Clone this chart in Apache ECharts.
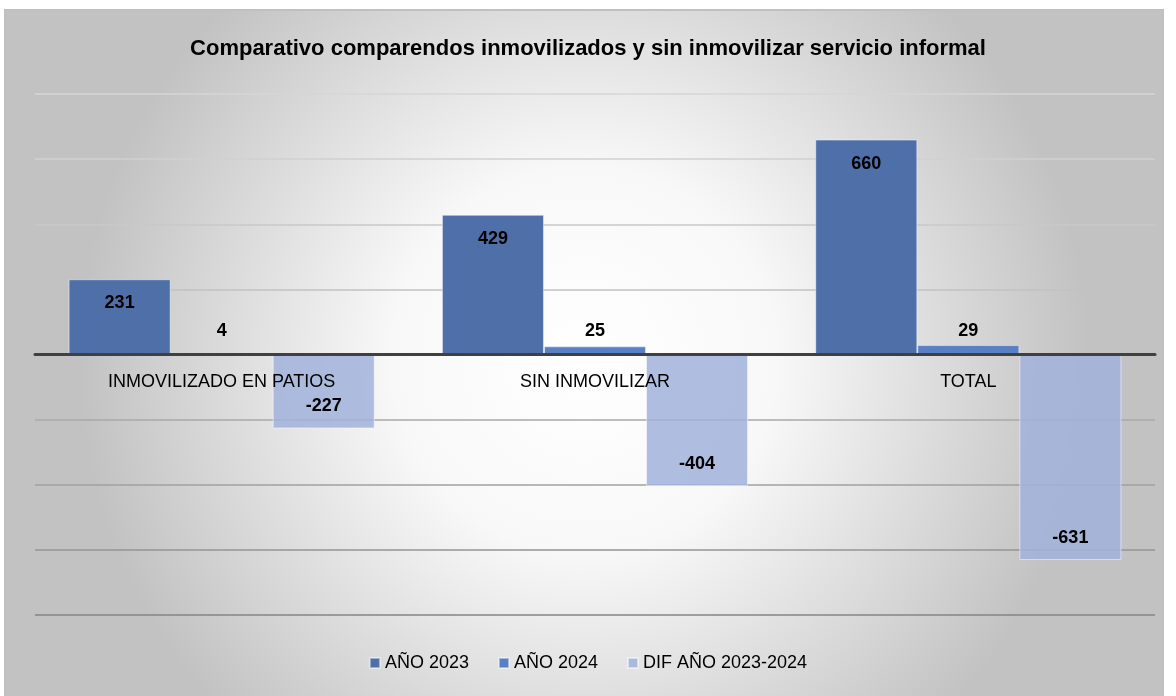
<!DOCTYPE html>
<html lang="es">
<head>
    <meta charset="utf-8"/>
    <title>Comparativo comparendos</title>
    <script src="https://cdn.jsdelivr.net/npm/echarts@6/dist/echarts.min.js"></script>
    <style>
        html, body { margin: 0; padding: 0; background: #fff; }
        #chart { width: 1176px; height: 696px; }
    </style>
</head>
<body>
<div id="chart"></div>
<script>
    const categories = ['INMOVILIZADO EN PATIOS', 'SIN INMOVILIZAR', 'TOTAL'];
    const seriesNames = ['AÑO 2023', 'AÑO 2024', 'DIF AÑO 2023-2024'];
    const year2023 = [231, 429, 660];
    const year2024 = [4, 25, 29];
    const difYears = [-227, -404, -631];

    const chart = echarts.init(document.getElementById('chart'));
    const font = '"Liberation Sans", Arial, sans-serif';
    const lbl = {
        show: true,
        color: '#000',
        fontWeight: 'bold',
        fontSize: 18,
        fontFamily: font
    };

    // grid: top 94, bottom edge at 615 -> zero line sits in the middle
    const gridTop = 94, gridBottom = 81, chartH = 696;
    const zeroOffset = (chartH - gridBottom - gridTop) / 2;

    const option = {
        backgroundColor: '#fff',
        graphic: [{
            type: 'rect',
            z: -10,
            silent: true,
            shape: { x: 5, y: 10, width: 1158, height: 700 },
            style: {
                fill: new echarts.graphic.RadialGradient(0.5, 0.5, 0.72, [
                    { offset: 0, color: '#ffffff' },
                    { offset: 0.38, color: '#f8f8f8' },
                    { offset: 1, color: '#c2c2c2' }
                ]),
                stroke: '#c0c0c0',
                lineWidth: 2
            }
        }],
        title: {
            text: 'Comparativo comparendos inmovilizados y sin inmovilizar servicio informal',
            left: 'center',
            top: 33,
            textStyle: { fontSize: 22, fontWeight: 'bold', color: '#000', fontFamily: font }
        },
        legend: {
            data: seriesNames,
            bottom: 19,
            left: 'center',
            itemWidth: 10,
            itemHeight: 10,
            itemGap: 29,
            icon: 'rect',
            textStyle: { fontSize: 18, color: '#000', fontFamily: font }
        },
        grid: { left: 35, right: 21, top: gridTop, bottom: gridBottom },
        xAxis: {
            type: 'category',
            data: categories,
            z: 5,
            offset: -zeroOffset,
            axisLine: { onZero: false, lineStyle: { color: '#404040', width: 3 } },
            axisTick: { show: false },
            axisLabel: { margin: 19, fontSize: 18, color: '#000', fontFamily: font }
        },
        yAxis: {
            type: 'value',
            min: -800,
            max: 800,
            interval: 200,
            axisLabel: { show: false },
            axisLine: { show: false },
            axisTick: { show: false },
            splitLine: {
                lineStyle: {
                    width: 1.5,
                    color: ['#858585', '#959595', '#a0a0a0', '#a8a8a8', '#bbbbbb', '#c2c2c2', '#c8c8c8', '#d0d0d0', '#d6d6d6']
                }
            }
        },
        series: [
            {
                name: seriesNames[0],
                type: 'bar',
                data: year2023,
                barGap: '0%',
                barCategoryGap: '18%',
                itemStyle: { color: '#4f6fa9', borderColor: 'rgba(255,255,255,0.45)', borderWidth: 1 },
                label: Object.assign({ position: 'insideTop', distance: 15 }, lbl)
            },
            {
                name: seriesNames[1],
                type: 'bar',
                data: year2024,
                itemStyle: { color: '#5a80c4', borderColor: 'rgba(255,255,255,0.45)', borderWidth: 1 },
                label: Object.assign({ position: 'insideBottom', distance: 14 }, lbl)
            },
            {
                name: seriesNames[2],
                type: 'bar',
                data: difYears,
                itemStyle: { color: 'rgba(160,177,218,0.85)', borderColor: 'rgba(255,255,255,0.5)', borderWidth: 1 },
                label: Object.assign({ position: 'insideBottom', distance: 13 }, lbl)
            }
        ]
    };
    chart.setOption(option);
</script>
</body>
</html>
